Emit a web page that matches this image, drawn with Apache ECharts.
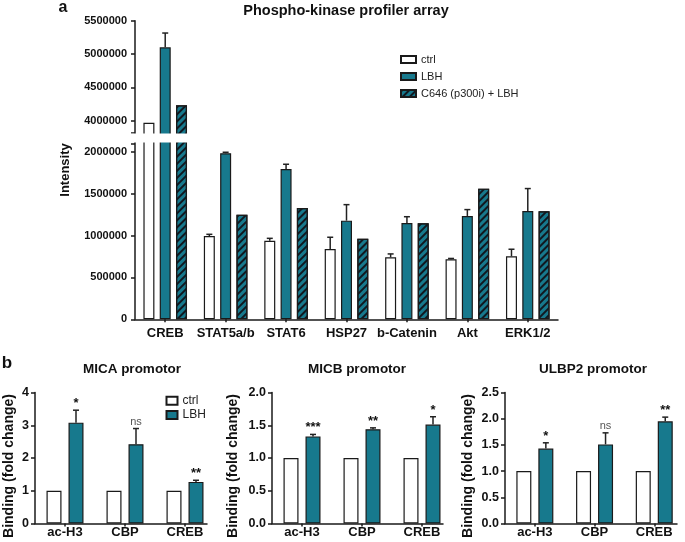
<!DOCTYPE html>
<html><head><meta charset="utf-8">
<script src="https://cdn.jsdelivr.net/npm/echarts@6/dist/echarts.min.js"></script>
<style>html,body{margin:0;padding:0;background:#fff}#c{width:685px;height:542px}</style>
</head><body><div id="c"></div>
<script>
// ---------- DATA ----------
const kinaseCategories = ['CREB', 'STAT5a/b', 'STAT6', 'HSP27', 'b-Catenin', 'Akt', 'ERK1/2'];
const kinaseCtrl    = [3968000, 994000, 938000, 839000, 740000, 716000, 752000];
const kinaseCtrlErr = [0, 20000, 28000, 140000, 40000, 10000, 84000];
const kinaseLBH     = [5100000, 1981000, 1794000, 1177000, 1149000, 1233000, 1292000];
const kinaseLBHErr  = [215000, 12000, 56000, 191000, 75000, 76000, 268000];
const kinaseC646    = [4230000, 1248000, 1328000, 962000, 1146000, 1559000, 1289000];
const kinaseUpperTickLabels = [4000000, 4500000, 5000000, 5500000];
const kinaseLowerTickLabels = [0, 500000, 1000000, 1500000, 2000000];
const kinaseSeriesNames = ['ctrl', 'LBH', 'C646 (p300i) + LBH'];

const chipCategories = ['ac-H3', 'CBP', 'CREB'];
const micaCtrl  = [1, 1, 1];
const micaLBH   = [3.08, 2.42, 1.27];
const micaErr   = [0.38, 0.48, 0.05];
const micaSig   = ['*', 'ns', '**'];
const micbCtrl  = [1, 1, 1];
const micbLBH   = [1.33, 1.44, 1.51];
const micbErr   = [0.03, 0.02, 0.12];
const micbSig   = ['***', '**', '*'];
const ulbp2Ctrl = [1, 1, 1];
const ulbp2LBH  = [1.43, 1.51, 1.95];
const ulbp2Err  = [0.11, 0.22, 0.08];
const ulbp2Sig  = ['*', 'ns', '**'];

// ---------- STYLE / LAYOUT ----------
const FONT = "'Liberation Sans', Arial, sans-serif";
const TEAL = '#17798d';
const AX = '#1a1a1a';
// axis break: upper segment shows 3820000..5500000, lower 0..2100000
const UPPER_BREAK = 3820000, UPPER_MAX = 5500000, LOWER_BREAK = 2100000;
const UP_TOP = 20.7, UP_BREAK_Y = 132.7, LOW_BREAK_Y = 143.3, LOW_BOTTOM = 319.3;
const EXT = 8; // grids run EXT px into the gap, which is masked white
const upPx = (UPPER_MAX - UPPER_BREAK) / (UP_BREAK_Y - UP_TOP);
const lowPx = LOWER_BREAK / (LOW_BOTTOM - LOW_BREAK_Y);
const UPPER_MIN = UPPER_BREAK - EXT * upPx;
const LOWER_MAX = LOWER_BREAK + EXT * lowPx;

const hatch = {
  symbol: 'rect', symbolSize: 1, color: '#101820',
  dashArrayX: [1, 0], dashArrayY: [1.6, 2.4], rotation: -Math.PI / 4
};
const ctrlStyle = { color: '#ffffff', borderColor: AX, borderWidth: 1.2 };
const lbhStyle = { color: TEAL, borderColor: AX, borderWidth: 1.2 };
const c646Style = { color: TEAL, borderColor: AX, borderWidth: 1.2, decal: hatch };

const TOP_BW = 11, TOP_GAP = 5.3;
const BOT_BW = 15, BOT_GAP = 7;

function valAxis(gi, min, max, labels, ticks, fmt, fs, margin) {
  return {
    type: 'value', gridIndex: gi, min: min, max: max,
    splitLine: { show: false },
    axisLine: { show: true, onZero: false, lineStyle: { color: AX, width: 1.5 } },
    axisTick: { show: true, length: 4, lineStyle: { color: AX, width: 1.5 }, customValues: ticks },
    axisLabel: { customValues: labels, formatter: fmt, color: '#111', fontWeight: 'bold', fontSize: fs, fontFamily: FONT, margin: margin }
  };
}
function catAxis(gi, cats, show, fs, margin) {
  return {
    type: 'category', gridIndex: gi, data: cats, show: show,
    axisLine: { show: true, lineStyle: { color: AX, width: 1.5 } },
    axisTick: { show: true, alignWithLabel: true, length: 3, lineStyle: { color: AX, width: 1.5 } },
    axisLabel: { color: '#111', fontWeight: 'bold', fontSize: fs, fontFamily: FONT, margin: margin, interval: 0 }
  };
}
// category positions on a value x axis (so the axis line can stop short of the last band)
function idxAxis(gi, cats, min, max, fs, margin) {
  const pos = cats.map((c, i) => i);
  return {
    type: 'value', gridIndex: gi, min: min, max: max,
    splitLine: { show: false },
    axisLine: { show: true, onZero: false, lineStyle: { color: AX, width: 1.5 } },
    axisTick: { show: true, length: 3, lineStyle: { color: AX, width: 1.5 }, customValues: pos },
    axisLabel: { customValues: pos, formatter: v => cats[Math.round(v)], color: '#111', fontWeight: 'bold', fontSize: fs, fontFamily: FONT, margin: margin }
  };
}
function bar(name, xi, yi, data, style, bw, gap) {
  return {
    type: 'bar', name: name, xAxisIndex: xi, yAxisIndex: yi, data: data,
    barWidth: bw, barGap: (gap / bw * 100) + '%', itemStyle: style, clip: true,
    emphasis: { disabled: true }, z: 2
  };
}
function errSeries(xi, yi, values, errs, sig, dx, keep) {
  const data = [];
  values.forEach((v, i) => { if (keep(v)) data.push([i, v, errs[i]]); });
  return {
    type: 'custom', xAxisIndex: xi, yAxisIndex: yi, data: data, z: 5, silent: true,
    encode: { x: 0, y: 1 },
    renderItem: function (params, api) {
      const i = api.value(0), v = api.value(1), e = api.value(2);
      const base = api.coord([i, v]);
      const top = api.coord([i, v + e]);
      const x = base[0] + dx;
      const ch = [];
      if (e > 0) {
        ch.push({ type: 'line', shape: { x1: x, y1: base[1], x2: x, y2: top[1] }, style: { stroke: '#222', lineWidth: 1.5 } });
        ch.push({ type: 'line', shape: { x1: x - 3, y1: top[1], x2: x + 3, y2: top[1] }, style: { stroke: '#222', lineWidth: 1.5 } });
      }
      if (sig && sig[i]) {
        const ns = sig[i] === 'ns';
        ch.push({ type: 'text', x: x, y: top[1] - (ns ? 1 : 0), style: {
          text: sig[i], align: 'center', verticalAlign: 'bottom',
          font: (ns ? 'normal 11px ' : 'bold 13px ') + FONT, fill: ns ? '#555' : '#111' } });
      }
      return { type: 'group', children: ch };
    }
  };
}

const plain = v => String(v);
const oneDec = v => v.toFixed(1);
const upperKeep = v => v > LOWER_BREAK;
const lowerKeep = v => v <= LOWER_BREAK;
const any = v => true;
const upperOnly = arr => arr.map(v => (v > LOWER_BREAK ? v : '-'));
const indexed = arr => arr.map((v, i) => [i, v]);

// axisStart: y-axis x position; axisEnd: end of x-axis line; band: px per category
const panels = [
  { axisStart: 35, axisEnd: 207, band: 60, max: 4, step: 1, fmt: plain, ctrl: micaCtrl, lbh: micaLBH, err: micaErr, sig: micaSig },
  { axisStart: 272, axisEnd: 443, band: 60, max: 2, step: 0.5, fmt: oneDec, ctrl: micbCtrl, lbh: micbLBH, err: micbErr, sig: micbSig },
  { axisStart: 505, axisEnd: 677, band: 59.7, max: 2.5, step: 0.5, fmt: oneDec, ctrl: ulbp2Ctrl, lbh: ulbp2LBH, err: ulbp2Err, sig: ulbp2Sig }
];
function steps(max, step) { const a = []; for (let k = 0; k * step <= max + 1e-9; k++) a.push(+(k * step).toFixed(2)); return a; }

const grid = [
  { left: 135, top: UP_TOP, width: 423, height: UP_BREAK_Y - UP_TOP + EXT },
  { left: 135, top: LOW_BREAK_Y - EXT, width: 423, height: LOW_BOTTOM - LOW_BREAK_Y + EXT }
];
const xAxis = [catAxis(0, kinaseCategories, false, 13, 8), catAxis(1, kinaseCategories, true, 13, 8)];
const yAxis = [
  valAxis(0, UPPER_MIN, UPPER_MAX, kinaseUpperTickLabels, [UPPER_BREAK].concat(kinaseUpperTickLabels), plain, 11, 8),
  valAxis(1, 0, LOWER_MAX, kinaseLowerTickLabels, kinaseLowerTickLabels.concat([LOWER_BREAK]), plain, 11, 8)
];
const series = [
  bar(kinaseSeriesNames[0], 1, 1, kinaseCtrl, ctrlStyle, TOP_BW, TOP_GAP),
  bar(kinaseSeriesNames[1], 1, 1, kinaseLBH, lbhStyle, TOP_BW, TOP_GAP),
  bar(kinaseSeriesNames[2], 1, 1, kinaseC646, c646Style, TOP_BW, TOP_GAP),
  bar(kinaseSeriesNames[0], 0, 0, upperOnly(kinaseCtrl), ctrlStyle, TOP_BW, TOP_GAP),
  bar(kinaseSeriesNames[1], 0, 0, upperOnly(kinaseLBH), lbhStyle, TOP_BW, TOP_GAP),
  bar(kinaseSeriesNames[2], 0, 0, upperOnly(kinaseC646), c646Style, TOP_BW, TOP_GAP),
  errSeries(1, 1, kinaseCtrl, kinaseCtrlErr, null, -(TOP_BW + TOP_GAP), lowerKeep),
  errSeries(1, 1, kinaseLBH, kinaseLBHErr, null, 0, lowerKeep),
  errSeries(0, 0, kinaseLBH, kinaseLBHErr, null, 0, upperKeep)
];
panels.forEach((p, k) => {
  const gi = 2 + k;
  const width = p.axisEnd - p.axisStart;
  grid.push({ left: p.axisStart, top: 392.5, width: width, height: 131 });
  xAxis.push(idxAxis(gi, chipCategories, -0.5, width / p.band - 0.5, 13, 2));
  const t = steps(p.max, p.step);
  yAxis.push(valAxis(gi, 0, p.max, t, t, p.fmt, 12.5, 6));
  const off = (BOT_BW + BOT_GAP) / 2;
  series.push(bar('ctrl', gi, gi, indexed(p.ctrl), ctrlStyle, BOT_BW, BOT_GAP));
  series.push(bar('LBH', gi, gi, indexed(p.lbh), lbhStyle, BOT_BW, BOT_GAP));
  series.push(errSeries(gi, gi, p.lbh, p.err, p.sig, off, any));
});

const txt = (x, y, text, font, extra) => Object.assign({
  type: 'text', x: x, y: y, silent: true,
  style: { text: text, font: font, fill: '#111', align: 'center', verticalAlign: 'middle' }
}, extra || {});

const option = {
  animation: false,
  backgroundColor: '#fff',
  grid: grid, xAxis: xAxis, yAxis: yAxis, series: series,
  legend: [
    { data: kinaseSeriesNames, orient: 'vertical', left: 400, top: 54, padding: 0, icon: 'rect',
      itemWidth: 15, itemHeight: 7, itemGap: 6, selectedMode: false,
      textStyle: { fontSize: 11, fontFamily: FONT, color: '#222' } },
    { data: ['ctrl', 'LBH'], orient: 'vertical', left: 165.5, top: 394.7, padding: 0, icon: 'rect',
      itemWidth: 11, itemHeight: 8, itemGap: 2.3, selectedMode: false,
      textStyle: { fontSize: 12, fontFamily: FONT, color: '#222' } }
  ],
  graphic: [
    // white gap of the broken y axis
    { type: 'rect', z: 100, silent: true,
      shape: { x: 120, y: UP_BREAK_Y + 0.9, width: 445, height: LOW_BREAK_Y - UP_BREAK_Y - 1.8 },
      style: { fill: '#ffffff' } },
    txt(63, 8, 'a', 'bold 16px ' + FONT),
    txt(346, 11, 'Phospho-kinase profiler array', 'bold 14.5px ' + FONT),
    txt(65, 170, 'Intensity', 'bold 13px ' + FONT, { rotation: Math.PI / 2 }),
    txt(7, 363, 'b', 'bold 17px ' + FONT),
    txt(132, 369, 'MICA promotor', 'bold 13.5px ' + FONT),
    txt(357, 369, 'MICB promotor', 'bold 13.5px ' + FONT),
    txt(593, 369, 'ULBP2 promotor', 'bold 13.5px ' + FONT),
    txt(9, 466, 'Binding (fold change)', 'bold 14px ' + FONT, { rotation: Math.PI / 2 }),
    txt(233, 466, 'Binding (fold change)', 'bold 14px ' + FONT, { rotation: Math.PI / 2 }),
    txt(468, 466, 'Binding (fold change)', 'bold 14px ' + FONT, { rotation: Math.PI / 2 })
  ]
};
const chart = echarts.init(document.getElementById('c'), null, { renderer: 'canvas' });
chart.setOption(option);
</script>
</body></html>
